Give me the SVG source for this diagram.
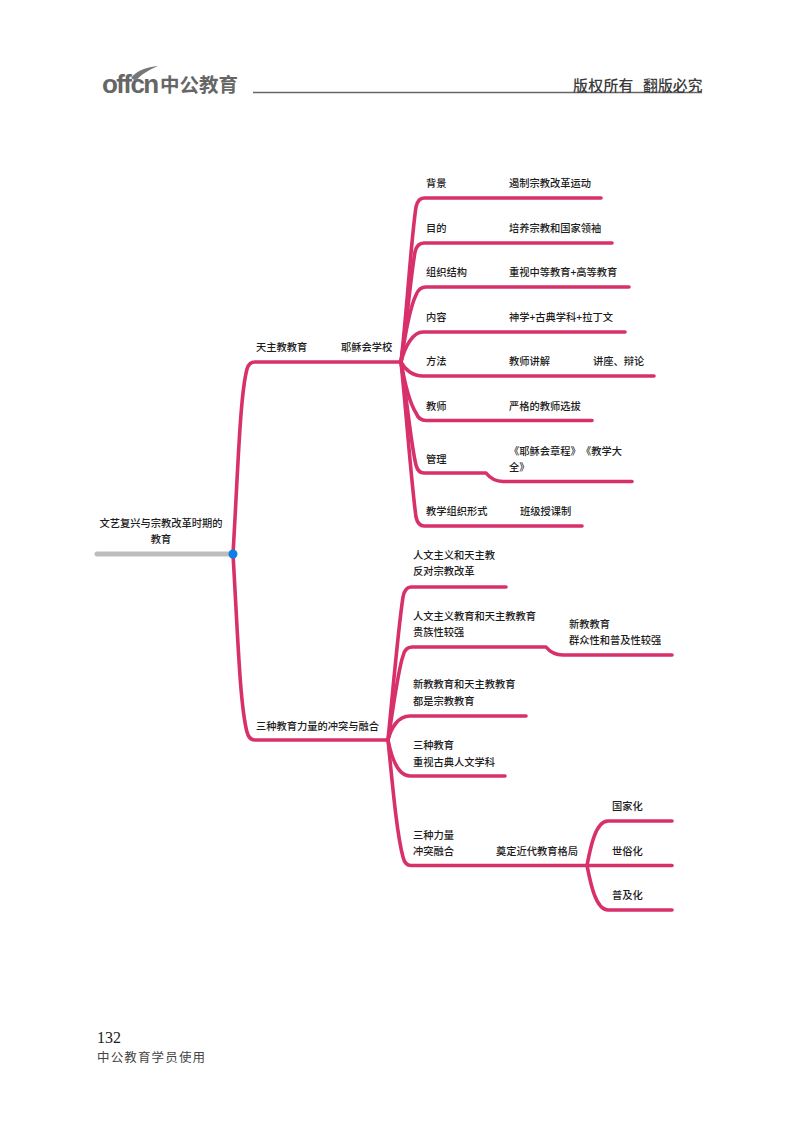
<svg xmlns="http://www.w3.org/2000/svg" width="800" height="1124" viewBox="0 0 800 1124">
<style>
text{font-family:"Noto Sans CJK SC","Liberation Sans",sans-serif;fill:#1c1c1c}
.t{font-size:10.25px;font-weight:500}
.c{fill:none;stroke:#d8306b;stroke-width:3.6;stroke-linecap:round;stroke-linejoin:round}
.h{fill:#666;font-weight:700}
.r{font-size:14.8px;fill:#3a3a3a;font-weight:500}
</style>
<rect width="800" height="1124" fill="#fff"/>
<g id="header">
<text class="h" x="102" y="93" style="font-family:'Liberation Sans',sans-serif;font-size:26px;letter-spacing:-1.6px">offcn</text>
<path d="M131 78C137 70 147 67 158 66C149 70 141 74 136 81Z" fill="#777"/>
<text class="h" x="160" y="92" font-size="19.5">中公教育</text>
<path d="M253 92.500H702" stroke="#666" stroke-width="1.6" fill="none"/>
<text class="r" x="573" y="91" letter-spacing="0.4">版权所有</text>
<text class="r" x="643" y="91" letter-spacing="0.1">翻版必究</text>
</g>
<g id="connectors">
<path class="c" d="M233 554C238 470 240 395 247 369Q249 362 255 362H401"/>
<path class="c" d="M233 554C238 640 240 705 247 732Q249 740 255 740H388"/>
<path class="c" d="M401 362C407 310 411 240 416 207Q418 198 424 198H601"/>
<path class="c" d="M401 362C407 320 411 275 415 252Q417 243 424 243H612"/>
<path class="c" d="M401 362C405 335 411 305 416 295Q419 287 426 287H629"/>
<path class="c" d="M401 362C405 346 413 332 423 332H625"/>
<path class="c" d="M401 362C405 370 413 376 423 376H654"/>
<path class="c" d="M401 362C405 385 411 405 416 413Q419 420.500 426 420.500H592"/>
<path class="c" d="M401 362C407 400 411 445 416 465Q418 473 424 473H486C490 478 496 481.500 503 481.500H632"/>
<path class="c" d="M401 362C407 420 411 480 416 517Q418 526 424 526H582"/>
<path class="c" d="M388 740C393 690 398 630 403 597Q405 587 411 587H506"/>
<path class="c" d="M388 740C393 710 398 670 403 656Q405 647 412 647H546C550 652 556 655 563 655H672"/>
<path class="c" d="M388 740C391 728 398 716 410 716H526"/>
<path class="c" d="M388 740C391 755 397 776 410 776H505"/>
<path class="c" d="M388 740C393 790 397 835 403 857Q405 865.500 411 865.500H672"/>
<path class="c" d="M587 865.500C590 850 595 821 608 821H672"/>
<path class="c" d="M587 865.500C590 880 595 910 608 910H672"/>
<path d="M97 554H232" stroke="#bdbdbd" stroke-width="5" stroke-linecap="round" fill="none"/>
</g>
<g id="root">
<circle cx="233" cy="554" r="4.500" fill="#0f7fe8"/>
<text class="t" x="161" y="527" text-anchor="middle">文艺复兴与宗教改革时期的</text>
<text class="t" x="161" y="543" text-anchor="middle">教育</text>
</g>
<g id="n-catholic"><text class="t" x="256" y="351">天主教教育</text></g>
<g id="n-jesuit"><text class="t" x="341" y="351">耶稣会学校</text></g>
<g id="n-bg"><text class="t" x="426" y="187">背景</text><text class="t" x="509" y="187">遏制宗教改革运动</text></g>
<g id="n-goal"><text class="t" x="426" y="232">目的</text><text class="t" x="509" y="232">培养宗教和国家领袖</text></g>
<g id="n-org"><text class="t" x="426" y="276">组织结构</text><text class="t" x="509" y="276">重视中等教育+高等教育</text></g>
<g id="n-content"><text class="t" x="426" y="321">内容</text><text class="t" x="509" y="321">神学+古典学科+拉丁文</text></g>
<g id="n-method"><text class="t" x="426" y="365">方法</text><text class="t" x="509" y="365">教师讲解</text><text class="t" x="593" y="365">讲座、辩论</text></g>
<g id="n-teacher"><text class="t" x="426" y="410">教师</text><text class="t" x="509" y="410">严格的教师选拔</text></g>
<g id="n-manage"><text class="t" x="426" y="463">管理</text><text class="t" x="509" y="455">《耶稣会章程》</text><text class="t" x="581" y="455">《教学大</text><text class="t" x="509" y="471">全》</text></g>
<g id="n-form"><text class="t" x="426" y="515">教学组织形式</text><text class="t" x="520" y="515">班级授课制</text></g>
<g id="n-three"><text class="t" x="256" y="730">三种教育力量的冲突与融合</text></g>
<g id="n-a"><text class="t" x="413" y="559">人文主义和天主教</text><text class="t" x="413" y="575">反对宗教改革</text></g>
<g id="n-b"><text class="t" x="413" y="620">人文主义教育和天主教教育</text><text class="t" x="413" y="636">贵族性较强</text></g>
<g id="n-b2"><text class="t" x="569" y="628">新教教育</text><text class="t" x="569" y="644">群众性和普及性较强</text></g>
<g id="n-c"><text class="t" x="413" y="688">新教教育和天主教教育</text><text class="t" x="413" y="705">都是宗教教育</text></g>
<g id="n-d"><text class="t" x="413" y="749">三种教育</text><text class="t" x="413" y="766">重视古典人文学科</text></g>
<g id="n-e"><text class="t" x="413" y="839">三种力量</text><text class="t" x="413" y="855">冲突融合</text></g>
<g id="n-e2"><text class="t" x="496" y="855">奠定近代教育格局</text></g>
<g id="n-e3"><text class="t" x="612" y="810">国家化</text></g>
<g id="n-e4"><text class="t" x="612" y="855">世俗化</text></g>
<g id="n-e5"><text class="t" x="612" y="899">普及化</text></g>
<g id="footer">
<text x="97" y="1043" font-size="16" style="font-family:'Liberation Serif',serif">132</text>
<text x="97" y="1061.500" font-size="12.500" letter-spacing="1.150" style="fill:#444">中公教育学员使用</text>
</g>
</svg>
